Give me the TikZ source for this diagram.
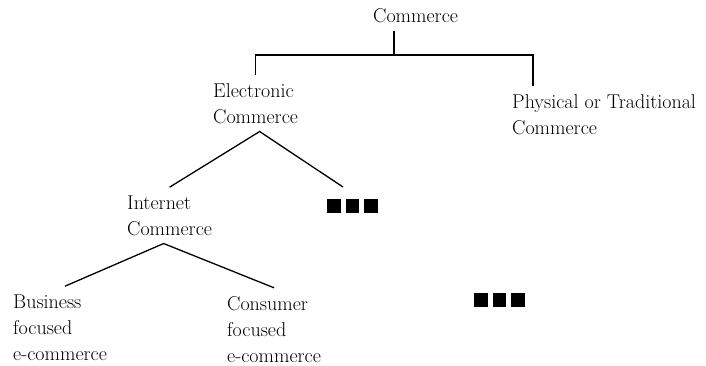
\documentclass[tikz,border=0pt]{standalone}
\usetikzlibrary{positioning}
\newcommand{\blocksq}{\rule{13.5pt}{14pt}}
\begin{document}
\begin{tikzpicture}[x=1pt, y=-1pt,
        term/.style={anchor=base west, align=left, inner xsep=0pt, inner ysep=8pt, font=\fontsize{20}{26}\selectfont},
        more/.style={anchor=north west, inner sep=0pt},
        branch/.style={line width=1.3pt}
    ]
        \useasboundingbox (0,0) rectangle (706,365);

        % Root
        \node[term] (com) at (373,22) {Commerce};

        % First level (placed by the baseline of the last line)
        \node[term] (ec) at (213,123) {Electronic\\Commerce};
        \node[term] (phys) at (512,134) {Physical or Traditional\\Commerce};

        % Second level
        \node[term] (ic) at (127,235) {Internet\\Commerce};
        \node[more] (moreA) at (327,199) {\blocksq\hspace{5pt}\blocksq\hspace{5pt}\blocksq};

        % Third level
        \node[term] (bn) at (13,360) {Business\\focused\\e-commerce};
        \node[term] (cn) at (227,362) {Consumer\\focused\\e-commerce};
        \node[more] (moreB) at (474,293) {\blocksq\hspace{5pt}\blocksq\hspace{5pt}\blocksq};

        % Branches
        \coordinate (split) at (394,55);
        \draw[branch] (com.south -| split) -- (split);
        \draw[branch] (ec.north) |- (split) -| ([xshift=21pt]phys.north west);
        \draw[branch] (ic.north) -- ([xshift=4pt]ec.south) -- ([shift={(16pt,12pt)}]moreA.north west);
        \draw[branch] ([xshift=5pt]bn.north) -- ([xshift=-6pt]ic.south) -- (cn.north);
    \end{tikzpicture}
\end{document}
